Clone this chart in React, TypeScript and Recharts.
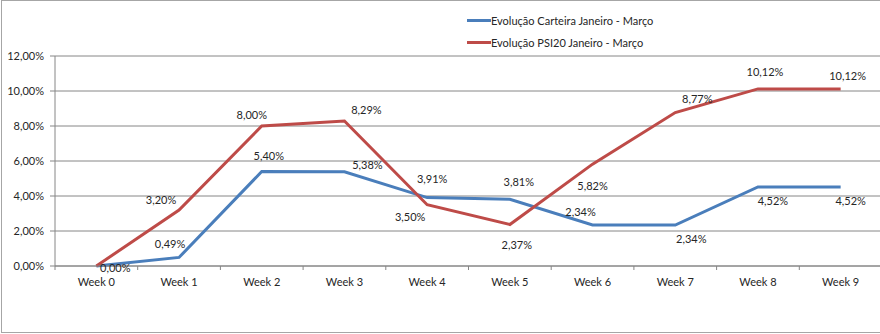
import React from 'react';
import { LineChart, Line, XAxis, YAxis, CartesianGrid, LabelList } from 'recharts';

const categories = ['Week 0', 'Week 1', 'Week 2', 'Week 3', 'Week 4', 'Week 5', 'Week 6', 'Week 7', 'Week 8', 'Week 9'];
const carteira = [0.0, 0.49, 5.4, 5.38, 3.91, 3.81, 2.34, 2.34, 4.52, 4.52];
const psi20 = [0.0, 3.2, 8.0, 8.29, 3.5, 2.37, 5.82, 8.77, 10.12, 10.12];
const yTicks = [0, 2, 4, 6, 8, 10, 12];
const seriesNames = ['Evolução Carteira Janeiro - Março', 'Evolução PSI20 Janeiro - Março'];

// label offsets (style only)
const blueOffsets: [number, number][] = [[19, 1], [-9, -14], [7, -16], [23, -7], [5, -19], [9, -18], [-12, -14], [16, 13], [15, 14], [10, 14]];
const redOffsets: [number, number][] = [[19, 1], [-18, -11], [-10, -12], [22, -11], [-17, 12], [7, 20], [0, 21], [22, -14], [7, -17], [7, -13]];

const data = categories.map((c, i) => ({ name: c, carteira: carteira[i], psi20: psi20[i] }));

const BLUE = '#4a7ebb';
const RED = '#be4b48';
const FONT = 'Lato, "Open Sans", sans-serif';
const TXT = '#262626';
const W = 900;
const H = 334;
const M = { top: 56, right: 18, left: 5, bottom: 38 };
const Y_W = 50;
const PLOT_W = W - M.left - M.right - Y_W;
const STEP = PLOT_W / categories.length;
const AXIS_Y = H - M.bottom - 30;

const fmt = (v: number) => v.toFixed(2).replace('.', ',') + '%';

const makeLabel = (offsets: [number, number][], skipFirst: boolean) => (props: any) => {
  const { x, y, value, index } = props;
  if (skipFirst && index === 0) return null;
  const [dx, dy] = offsets[index] || [0, 0];
  return (
    <text x={x + dx} y={y + dy} textAnchor="middle" dominantBaseline="central" fontFamily={FONT} fontSize={11} fill={TXT}>
      {fmt(value)}
    </text>
  );
};

const XTick = (props: any) => {
  const { x, payload, index } = props;
  return (
    <g>
      <line x1={x - STEP / 2} x2={x - STEP / 2} y1={AXIS_Y} y2={AXIS_Y + 4} stroke="#868686" />
      {index === categories.length - 1 && (
        <line x1={x + STEP / 2} x2={x + STEP / 2} y1={AXIS_Y} y2={AXIS_Y + 4} stroke="#868686" />
      )}
      <text x={x} y={AXIS_Y + 15} textAnchor="middle" dominantBaseline="central" fontFamily={FONT} fontSize={11} fill={TXT}>
        {payload.value}
      </text>
    </g>
  );
};

const LegendBox = () => (
  <div style={{ position: 'absolute', left: 467, top: 9, fontFamily: FONT, fontSize: 11, color: TXT }}>
    {seriesNames.map((n, i) => (
      <div key={n} style={{ display: 'flex', alignItems: 'center', height: 22 }}>
        <div style={{ width: 24, height: 3, background: i === 0 ? BLUE : RED }} />
        <span>{n}</span>
      </div>
    ))}
  </div>
);

export default function App() {
  return (
    <div style={{ position: 'absolute', left: 0, top: 0, width: 880, height: 334, overflow: 'hidden', background: '#fff' }}>
      <div style={{ position: 'absolute', left: 1, top: 0, width: 920, height: 333, border: '1px solid #a6a6a6', boxSizing: 'border-box' }} />
      <div style={{ position: 'absolute', left: 0, top: 0 }}>
        <LineChart width={W} height={H} data={data} margin={M}>
          <CartesianGrid vertical={false} stroke="#868686" strokeWidth={1} />
          <XAxis
            dataKey="name"
            height={30}
            padding={{ left: STEP / 2, right: STEP / 2 }}
            axisLine={{ stroke: '#868686' }}
            tickLine={false}
            tick={<XTick />}
            interval={0}
          />
          <YAxis
            width={Y_W}
            domain={[0, 12]}
            ticks={yTicks}
            axisLine={{ stroke: '#868686' }}
            tickLine={{ stroke: '#868686' }}
            tickSize={5}
            tickMargin={6}
            tickFormatter={fmt}
            tick={{ fontFamily: FONT, fontSize: 11, fill: TXT }}
          />
          <Line type="linear" dataKey="carteira" stroke={BLUE} strokeWidth={3} dot={false} isAnimationActive={false}>
            <LabelList dataKey="carteira" content={makeLabel(blueOffsets, false)} />
          </Line>
          <Line type="linear" dataKey="psi20" stroke={RED} strokeWidth={3} dot={false} isAnimationActive={false}>
            <LabelList dataKey="psi20" content={makeLabel(redOffsets, true)} />
          </Line>
        </LineChart>
      </div>
      <LegendBox />
    </div>
  );
}
